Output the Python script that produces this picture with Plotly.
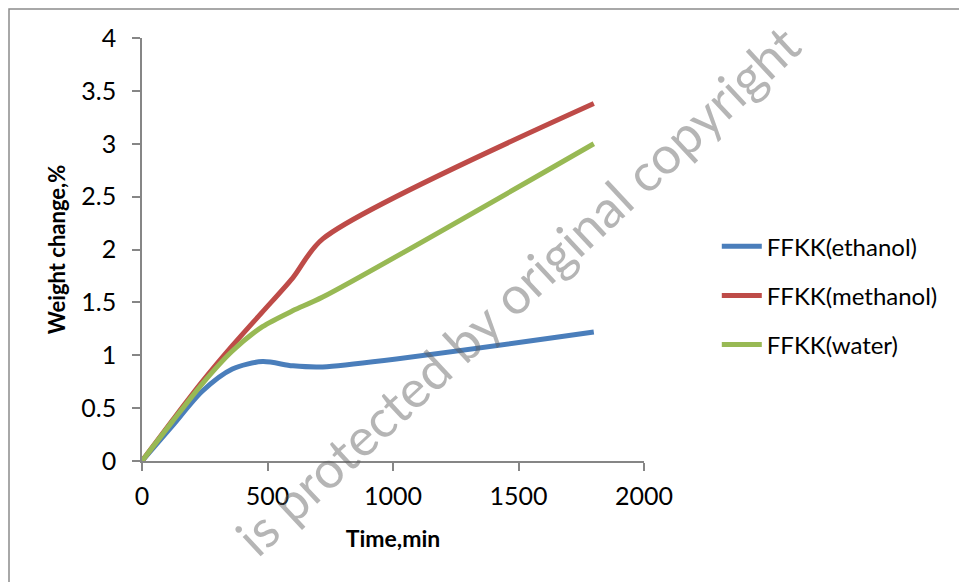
import plotly.graph_objects as go

time_min = [0, 120, 240, 360, 480, 600, 720, 1800]
ethanol = [0, 0.33, 0.66, 0.87, 0.94, 0.90, 0.89, 1.22]
methanol = [0, 0.38, 0.75, 1.09, 1.41, 1.73, 2.10, 3.38]
water = [0, 0.37, 0.73, 1.04, 1.27, 1.42, 1.55, 3.00]

series_names = ["FFKK(ethanol)", "FFKK(methanol)", "FFKK(water)"]
series_values = [ethanol, methanol, water]
series_colors = ["#4A7EBB", "#BE4B48", "#98B954"]

x_ticks = [0, 500, 1000, 1500, 2000]
y_ticks = [0, 0.5, 1, 1.5, 2, 2.5, 3, 3.5, 4]

FONT = "Lato"

fig = go.Figure()
for i, (name, vals, col) in enumerate(zip(series_names, series_values, series_colors)):
    fig.add_trace(go.Scatter(
        x=time_min, y=vals, name=name, mode="lines",
        line=dict(color=col, width=5, shape="spline", smoothing=0.8),
        legendgroup=f"g{i}",
    ))

axis_col = "#868686"
fig.update_layout(
    width=959, height=582,
    margin=dict(l=142, r=315, t=38, b=121),
    paper_bgcolor="white", plot_bgcolor="white",
    font=dict(family=FONT, size=24, color="black"),
    showlegend=True,
    legend=dict(
        x=1.145, y=0.56, xanchor="left", yanchor="top",
        font=dict(family=FONT, size=24, color="black"),
        tracegroupgap=15, traceorder="grouped",
        bgcolor="rgba(0,0,0,0)", itemwidth=40,
    ),
    xaxis=dict(
        range=[0, 2000], tickvals=x_ticks, ticktext=[str(v) for v in x_ticks],
        showgrid=False, zeroline=False, showline=True, linecolor=axis_col, linewidth=1.5,
        ticks="outside", ticklen=8, tickcolor=axis_col, tickwidth=1.5,
        tickfont=dict(family=FONT, size=25, color="black"), ticklabelstandoff=4,
        title=dict(text="<b>Time,min</b>", font=dict(family=FONT, size=23, color="black"), standoff=22),
    ),
    yaxis=dict(
        range=[0, 4], tickvals=y_ticks, ticktext=[f"{v:g}" for v in y_ticks],
        showgrid=False, zeroline=False, showline=True, linecolor=axis_col, linewidth=1.5,
        ticks="outside", ticklen=8, tickcolor=axis_col, tickwidth=1.5,
        tickfont=dict(family=FONT, size=25, color="black"), ticklabelstandoff=11,
        title=dict(text="<b>Weight change,%</b>", font=dict(family=FONT, size=22, color="black"), standoff=10),
    ),
)

# outer chart-area border (extends beyond the visible image on right/bottom)
fig.add_shape(type="rect", xref="paper", yref="paper",
              x0=(9 - 142) / 502, x1=(1000 - 142) / 502,
              y0=(461 - 620) / 423, y1=(461 - 9) / 423,
              line=dict(color="#8C8C8C", width=1.5), fillcolor="rgba(0,0,0,0)", layer="below")

# watermark
fig.add_annotation(
    text="is protected by original copyright",
    xref="paper", yref="paper",
    x=(517 - 142) / 502, y=(461 - 290) / 423,
    xanchor="center", yanchor="middle", showarrow=False,
    textangle=-43,
    font=dict(family=FONT, size=52, color="rgba(90,90,90,0.45)"),
)

fig.write_html("out.html")
